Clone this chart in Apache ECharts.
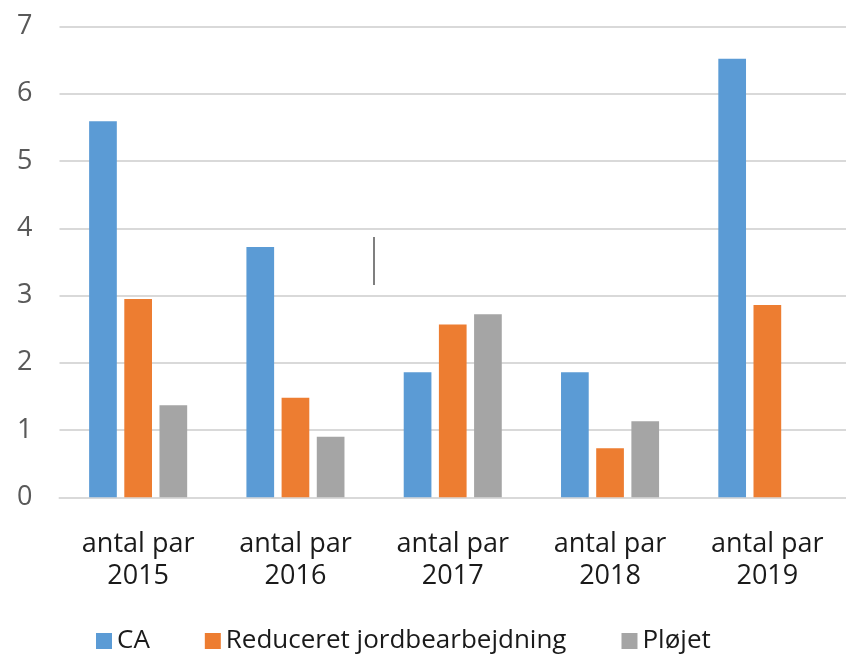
<!DOCTYPE html>
<html>
<head>
<meta charset="utf-8">
<script src="https://cdn.jsdelivr.net/npm/echarts@6/dist/echarts.min.js"></script>
<style>
html,body{margin:0;padding:0;background:#fff;}
#chart{width:846px;height:655px;}
</style>
</head>
<body>
<div id="chart"></div>
<script>
const categories = ['antal par\n2015', 'antal par\n2016', 'antal par\n2017', 'antal par\n2018', 'antal par\n2019'];
const seriesNames = ['CA', 'Reduceret jordbearbejdning', 'Pløjet'];
const caValues = [5.59, 3.72, 1.86, 1.86, 6.52];
const reduceretValues = [2.95, 1.48, 2.57, 0.73, 2.86];
const plojetValues = [1.37, 0.90, 2.72, 1.13, null];
const yTicks = [0, 1, 2, 3, 4, 5, 6, 7];

const colors = ['#5B9BD5', '#ED7D31', '#A5A5A5'];
const FONT = '"Open Sans", "DejaVu Sans", sans-serif';

const chart = echarts.init(document.getElementById('chart'), null, {renderer: 'canvas'});
const barStyle = {barWidth: 27.7, barGap: '27%'};
chart.setOption({
  animation: false,
  color: colors,
  grid: {left: 59.5, top: 26.5, width: 796.5, height: 470.8, containLabel: false},
  xAxis: {
    type: 'category',
    data: categories,
    axisLine: {lineStyle: {color: '#D9D9D9', width: 2}},
    axisTick: {show: false},
    axisLabel: {color: '#1a1a1a', fontSize: 27, fontFamily: FONT, lineHeight: 32, margin: 31, interval: 0}
  },
  yAxis: {
    type: 'value',
    min: yTicks[0],
    max: yTicks[yTicks.length - 1],
    interval: 1,
    axisLine: {show: false},
    axisTick: {show: false},
    splitLine: {lineStyle: {color: '#D9D9D9', width: 2}},
    axisLabel: {color: '#595959', fontSize: 27, fontFamily: FONT, margin: 27}
  },
  legend: {
    data: seriesNames,
    left: 96,
    top: 624,
    padding: 0,
    itemWidth: 16,
    itemHeight: 16,
    itemGap: 55,
    icon: 'rect',
    textStyle: {color: '#1a1a1a', fontSize: 26, fontFamily: FONT, lineHeight: 34}
  },
  series: [
    Object.assign({type: 'bar', name: seriesNames[0], data: caValues}, barStyle),
    Object.assign({type: 'bar', name: seriesNames[1], data: reduceretValues}, barStyle),
    Object.assign({type: 'bar', name: seriesNames[2], data: plojetValues}, barStyle)
  ],
  graphic: [{
    type: 'line',
    shape: {x1: 374, y1: 237, x2: 374, y2: 285},
    style: {stroke: '#555555', lineWidth: 1.5}
  }]
});
</script>
</body>
</html>
